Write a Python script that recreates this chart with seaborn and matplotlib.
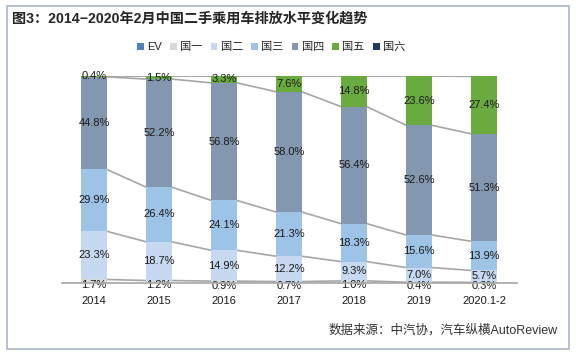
import numpy as np
import pandas as pd
import matplotlib
matplotlib.use("Agg")
import matplotlib.pyplot as plt
import seaborn as sns
from matplotlib.patches import Patch, Rectangle

# ---- data ----
years = ["2014", "2015", "2016", "2017", "2018", "2019", "2020.1-2"]
series_names = ["EV", "国一", "国二", "国三", "国四", "国五", "国六"]
ev = [0.0, 0.0, 0.0, 0.0, 0.0, 0.0, 0.0]
guo1 = [1.7, 1.2, 0.9, 0.7, 1.0, 0.4, 0.3]
guo2 = [23.3, 18.7, 14.9, 12.2, 9.3, 7.0, 5.7]
guo3 = [29.9, 26.4, 24.1, 21.3, 18.3, 15.6, 13.9]
guo4 = [44.8, 52.2, 56.8, 58.0, 56.4, 52.6, 51.3]
guo5 = [0.4, 1.5, 3.3, 7.6, 14.8, 23.6, 27.4]
guo6 = [0.0, 0.0, 0.0, 0.0, 0.0, 0.0, 0.2]
colors = ["#4f81bd", "#d9d9d9", "#c6d9f0", "#9dc3e6", "#8497b0", "#6aab3f", "#1f3864"]

sns.set_theme(style="white")
plt.rcParams["font.family"] = ["Liberation Sans", "Noto Sans CJK SC", "DejaVu Sans"]

values = np.array([ev, guo1, guo2, guo3, guo4, guo5, guo6])
# 100% stacked, like the original chart
share = values / values.sum(axis=0) * 100
cum = np.cumsum(share, axis=0)

fig = plt.figure(figsize=(5.76, 3.54), dpi=100)
ax = fig.add_axes([61.5 / 576, 1 - 283 / 354, 455 / 576, 207 / 354])

bar_w = 0.395
# stacked bars: draw cumulative totals from the top series down
for k in range(len(series_names) - 1, -1, -1):
    df = pd.DataFrame({"year": years, "value": cum[k]})
    sns.barplot(data=df, x="year", y="value", color=colors[k], saturation=1,
                width=bar_w, linewidth=0, ax=ax, zorder=2)

# series lines between bars
for k in range(1, len(series_names)):
    for i in range(len(years) - 1):
        ax.plot([i + bar_w / 2, i + 1 - bar_w / 2], [cum[k][i], cum[k][i + 1]],
                color="#a6a6a6", lw=1.2, zorder=1)

# value labels (国一 .. 国五)
for k in range(1, 6):
    for i in range(len(years)):
        yc = cum[k][i] - share[k][i] / 2
        dy = -2.5 if k == 1 else 0
        ax.annotate(f"{values[k][i]:.1f}%", (i, yc), xytext=(0, dy),
                    textcoords="offset points", ha="center", va="center",
                    fontsize=8, color="#1a1a1a", zorder=3)

ax.set_xlim(-0.5, len(years) - 0.5)
ax.set_ylim(0, 100)
ax.set_xlabel("")
ax.set_ylabel("")
ax.set_yticks([])
for s in ["top", "right", "left"]:
    ax.spines[s].set_visible(False)
ax.spines["bottom"].set_color("#a6a6a6")
ax.spines["bottom"].set_linewidth(1.2)
ax.spines["bottom"].set_zorder(4)
ax.tick_params(axis="x", length=0, pad=9, labelsize=8, colors="#1a1a1a")

# legend
handles = [Patch(facecolor=c, edgecolor="none") for c in colors]
fig.legend(handles, series_names, loc="center", bbox_to_anchor=(271 / 576, 1 - 47 / 354),
           ncol=7, frameon=False, fontsize=8, handlelength=0.6, handleheight=0.6,
           handletextpad=0.3, columnspacing=0.75)

# title, source, frame
fig.text(12 / 576, 1 - 19 / 354, "图3：2014−2020年2月中国二手乘用车排放水平变化趋势",
         fontsize=10.2, fontweight="bold", color="#262626", va="center", ha="left")
fig.text(558 / 576, 1 - 330 / 354, "数据来源：中汽协，汽车纵横AutoReview",
         fontsize=9, color="#333333", va="center", ha="right")
fig.patches.append(Rectangle((7 / 576, 5 / 354), 562 / 576, 343 / 354,
                             transform=fig.transFigure, fill=False,
                             edgecolor="#a9b4c4", lw=1.2))

fig.savefig("out.png", dpi=100)
